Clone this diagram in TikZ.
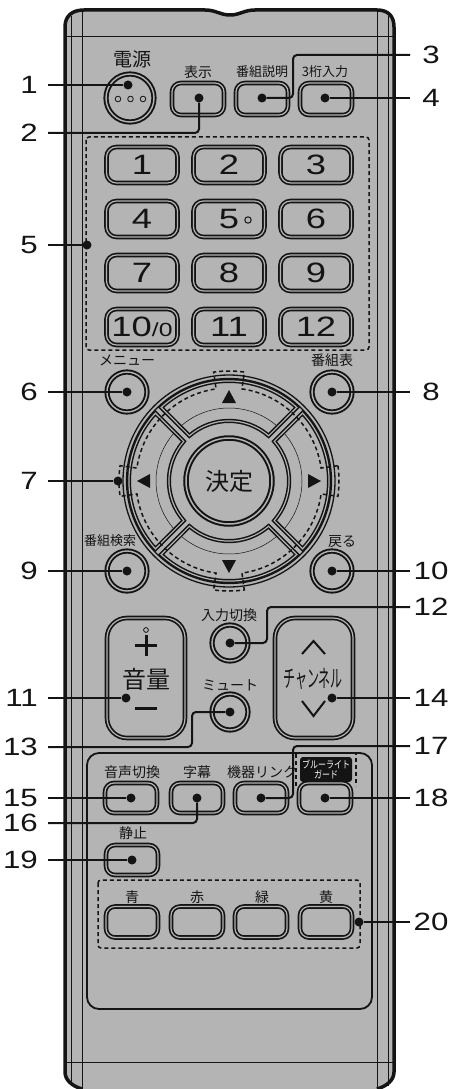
\documentclass[tikz,border=0pt]{standalone}
\usepackage{fontspec}
\usetikzlibrary{calc}
\newfontfamily\jp{Noto Sans CJK JP}
\newfontfamily\numf[FakeStretch=1.25]{Liberation Sans}
\newfontfamily\keyf[FakeStretch=1.3]{Liberation Sans}
\definecolor{bodyc}{RGB}{180,180,180}
\definecolor{ink}{RGB}{20,20,20}
\tikzset{
  btn/.style={draw=ink, line width=1.7, double=bodyc, double distance=1.2, fill=bodyc, rounded corners=9, inner sep=0},
  rbtn/.style={circle, draw=ink, line width=1.9, double=bodyc, double distance=1.4, fill=bodyc, minimum size=#1, inner sep=0},
  keyst/.style={draw=ink, line width=1.5, double=bodyc, double distance=1.2, fill=bodyc},
  dotn/.style={circle, fill=ink, inner sep=0, minimum size=9},
  lbl/.style={font=\jp\fontsize{#1}{#1}\selectfont, inner sep=0, text=ink},
  lbl/.default=14,
  cnum/.style={font=\numf\fontsize{25}{25}\selectfont, inner sep=0, text=ink},
  keyfont/.style={font=\keyf\fontsize{28}{28}\selectfont, text=ink},
  lead/.style={draw=ink, line width=2, rounded corners=4},
  grp/.style={draw=ink, line width=1.5, dash pattern=on 4pt off 3pt},
  thinl/.style={draw=ink, line width=0.8},
}
\begin{document}
\begin{tikzpicture}[x=1pt,y=-1pt]
\useasboundingbox (0,0) rectangle (459,1089);
\fill[white] (0,0) rectangle (459,1089);

% ---------------- body ----------------
\fill[bodyc] (82,1089) .. controls (72,1086) and (65,1080) .. (65,1072) -- (65,27)
  .. controls (65,16) and (72,10) .. (84,10) -- (205,10)
  .. controls (216,10) and (220,15) .. (230,15)
  .. controls (240,15) and (244,10) .. (255,10) -- (377,10)
  .. controls (388,10) and (394,16) .. (394,27) -- (394,1072)
  .. controls (394,1080) and (387,1086) .. (377,1089) -- cycle;
\draw[thinl] (71,16) -- (71,1086);
\draw[thinl] (82,12) -- (82,1089);
\draw[thinl] (377,12) -- (377,1089);
\draw[thinl] (388,16) -- (388,1086);
\draw[thinl] (65,36) -- (394,36);
\draw[thinl] (65,1062) -- (394,1062);
\draw[ink, line width=3.5, line join=round] (82,1089) .. controls (72,1086) and (65,1080) .. (65,1072) -- (65,27)
  .. controls (65,16) and (72,10) .. (84,10) -- (205,10)
  .. controls (216,10) and (220,15) .. (230,15)
  .. controls (240,15) and (244,10) .. (255,10) -- (377,10)
  .. controls (388,10) and (394,16) .. (394,27) -- (394,1072)
  .. controls (394,1080) and (387,1086) .. (377,1089);

% ---------------- top row ----------------
\node[rbtn=48] (pw) at (130,98) {};
\foreach \x [count=\i] in {118,130.5,143} \draw[ink, line width=0.8] (\x,99) circle[radius=2.8];
\node[lbl=19] (lpw) at (132,59) {電源};
\node[btn, minimum width=52, minimum height=32] (bdisp) at (198,99) {};
\node[lbl] (ldisp) at (198,72) {表示};
\node[btn, minimum width=52, minimum height=32] (binfo) at (262,99) {};
\node[lbl=13] (linfo) at (262,72) {番組説明};
\node[btn, minimum width=52, minimum height=32] (b3d) at (326,99) {};
\node[lbl=13] (l3d) at (325,72) {3桁入力};

% ---------------- keypad ----------------
\draw[grp, rounded corners=3] (86,137) rectangle (369,350);
\node[btn, minimum width=71, minimum height=36, rounded corners=10, keyfont] (k1) at (142,165) {1};
\node[btn, minimum width=71, minimum height=36, rounded corners=10, keyfont] (k2) at (229,165) {2};
\node[btn, minimum width=71, minimum height=36, rounded corners=10, keyfont] (k3) at (316,165) {3};
\node[btn, minimum width=71, minimum height=36, rounded corners=10, keyfont] (k4) at (142,219) {4};
\node[btn, minimum width=71, minimum height=36, rounded corners=10, keyfont] (k5) at (229,219) {5};
\draw[ink, line width=1] (248,220) circle[radius=3.2];
\node[btn, minimum width=71, minimum height=36, rounded corners=10, keyfont] (k6) at (316,219) {6};
\node[btn, minimum width=71, minimum height=36, rounded corners=10, keyfont] (k7) at (142,273) {7};
\node[btn, minimum width=71, minimum height=36, rounded corners=10, keyfont] (k8) at (229,273) {8};
\node[btn, minimum width=71, minimum height=36, rounded corners=10, keyfont] (k9) at (316,273) {9};
\node[btn, minimum width=71, minimum height=36, rounded corners=10, keyfont] (k10) at (142,327) {10{\fontsize{19}{19}\selectfont/0}};
\node[btn, minimum width=71, minimum height=36, rounded corners=10, keyfont] (k11) at (229,327) {11};
\node[btn, minimum width=71, minimum height=36, rounded corners=10, keyfont] (k12) at (316,327) {12};

% ---------------- menu etc ----------------
\node[lbl] (lmenu) at (127,360) {メニュー};
\node[rbtn=40] (bmenu) at (127,392) {};
\node[lbl] (lepg) at (332,360) {番組表};
\node[rbtn=40] (bepg) at (332,392) {};
\node[lbl=13] (lsrch) at (110,541) {番組検索};
\node[rbtn=40] (bsrch) at (127,571) {};
\node[lbl] (lback) at (342,542) {戻る};
\node[rbtn=40] (bback) at (332,571) {};

% ---------------- d-pad ----------------
\coordinate (C) at (229,481);
\draw[ink, line width=1.3, fill=bodyc] (C) circle[radius=106];
\draw[ink, line width=1.3] (C) circle[radius=102.5];
\foreach \a in {0,90,180,270} {
  \draw[keyst] ($(C)+(\a+48.8:60.1)$) -- ($(C)+(\a+47.3:100.1)$)
     arc[start angle=\a+47.3, end angle=\a+132.7, radius=100.1]
     -- ($(C)+(\a+131.2:60.1)$)
     arc[start angle=\a+131.2, end angle=\a+48.8, radius=60.1] -- cycle;
  \draw[ink, line width=0.5] ($(C)+(\a+50:73)$) arc[start angle=\a+50, end angle=\a+130, radius=73];
}
\draw[grp] ($(C)+(-8:110)$) arc[start angle=-8, end angle=8, radius=110]
  -- ($(C)+(8:93)$) arc[start angle=8, end angle=82, radius=93]
  -- ($(C)+(82:110)$) arc[start angle=82, end angle=98, radius=110]
  -- ($(C)+(98:93)$) arc[start angle=98, end angle=172, radius=93]
  -- ($(C)+(172:110)$) arc[start angle=172, end angle=188, radius=110]
  -- ($(C)+(188:93)$) arc[start angle=188, end angle=262, radius=93]
  -- ($(C)+(262:110)$) arc[start angle=262, end angle=278, radius=110]
  -- ($(C)+(278:93)$) arc[start angle=278, end angle=352, radius=93] -- cycle;
\node[circle, draw=ink, line width=2, double=bodyc, double distance=1.5, fill=bodyc,
      minimum size=86, inner sep=0, lbl=24] (ok) at (C) {決定};
\fill[ink] (222,403) -- (236,403) -- (229,390) -- cycle;
\fill[ink] (222,560) -- (236,560) -- (229,573) -- cycle;
\fill[ink] (137,481) -- (150,474) -- (150,488) -- cycle;
\fill[ink] (321,481) -- (308,474) -- (308,488) -- cycle;

% ---------------- volume / channel ----------------
\node[btn, minimum width=78, minimum height=120, rounded corners=20] (vol) at (146,678) {};
\draw[ink, line width=0.8] (146,630) circle[radius=2.4];
\draw[ink, line width=3] (135,645) -- (157,645);
\draw[ink, line width=3] (146,635) -- (146,656);
\node[lbl=24] (lvol) at (146,679) {音量};
\draw[ink, line width=3] (135,708) -- (157,708);
\node[btn, minimum width=78, minimum height=120, rounded corners=20] (ch) at (314,678) {};
\draw[ink, line width=2] (302,654) -- (313.5,641) -- (325,654);
\draw[ink, line width=2] (302,701) -- (313.5,716) -- (325,701);
\node[lbl=24] (lch) at (313,679) {\scalebox{0.5}[1]{チャンネル}};
\node[lbl] (linp) at (229,615) {入力切換};
\node[rbtn=36] (binp) at (230,643) {};
\node[lbl] (lmute) at (230,685) {ミュート};
\node[rbtn=36] (bmute) at (230,712) {};

% ---------------- lower panel ----------------
\draw[ink, line width=1.8, fill=bodyc, rounded corners=12] (87,753) rectangle (372,1009);
\draw[grp] (296,786) -- (296,753) -- (356,753) -- (356,786);
\node[fill=ink, rounded corners=3, minimum width=52, minimum height=25, inner sep=0,
      text=white, align=center, font=\jp\fontsize{10}{11}\selectfont] (lblue) at (326,769.5)
      {\scalebox{0.8}[1]{ブルーライト}\\[-1pt]\scalebox{0.8}[1]{ガード}};
\node[lbl] (laud) at (132,772) {音声切換};
\node[lbl] (lsub) at (197,772) {字幕};
\node[lbl] (llink) at (262,772) {機器リンク};
\node[btn, minimum width=52, minimum height=30] (baud) at (131,798) {};
\node[btn, minimum width=52, minimum height=30] (bsub) at (197,798) {};
\node[btn, minimum width=52, minimum height=30] (blink) at (261,798) {};
\node[btn, minimum width=52, minimum height=30] (bblue) at (325,798) {};
\node[lbl] (lstill) at (133,833) {静止};
\node[btn, minimum width=52, minimum height=30] (bstill) at (132,860) {};
\draw[grp, rounded corners=3] (98,880) rectangle (360,948);
\node[lbl] (lc1) at (132,897) {青};
\node[lbl] (lc2) at (197,897) {赤};
\node[lbl] (lc3) at (262,897) {緑};
\node[lbl] (lc4) at (326,897) {黄};
\node[btn, minimum width=52, minimum height=31] (bc1) at (132,922) {};
\node[btn, minimum width=52, minimum height=31] (bc2) at (197,922) {};
\node[btn, minimum width=52, minimum height=31] (bc3) at (261,922) {};
\node[btn, minimum width=52, minimum height=31] (bc4) at (326,922) {};

% ---------------- callout numbers ----------------
\node[cnum, anchor=east] (n1) at (38,85) {1};
\node[cnum, anchor=east] (n2) at (38,133) {2};
\node[cnum] (n3) at (431,55) {3};
\node[cnum] (n4) at (431,98) {4};
\node[cnum, anchor=east] (n5) at (38,245) {5};
\node[cnum, anchor=east] (n6) at (38,392) {6};
\node[cnum, anchor=east] (n7) at (38,481) {7};
\node[cnum] (n8) at (431,392) {8};
\node[cnum, anchor=east] (n9) at (38,571) {9};
\node[cnum] (n10) at (431,571) {10};
\node[cnum, anchor=east] (n11) at (38,698) {11};
\node[cnum] (n12) at (431,607) {12};
\node[cnum, anchor=east] (n13) at (38,747) {13};
\node[cnum] (n14) at (431,698) {14};
\node[cnum, anchor=east] (n15) at (38,798) {15};
\node[cnum, anchor=east] (n16) at (38,823) {16};
\node[cnum] (n17) at (431,746) {17};
\node[cnum] (n18) at (431,798) {18};
\node[cnum, anchor=east] (n19) at (38,860) {19};
\node[cnum] (n20) at (431,922) {20};

% line starts
\coordinate (a1) at (48,85);
\coordinate (a2) at (48,133);
\coordinate (a3) at (410,55);
\coordinate (a4) at (410,98);
\coordinate (a5) at (48,245);
\coordinate (a6) at (48,392);
\coordinate (a7) at (48,481);
\coordinate (a8) at (410,392);
\coordinate (a9) at (48,571);
\coordinate (a10) at (410,571);
\coordinate (a11) at (48,698);
\coordinate (a12) at (410,607);
\coordinate (a13) at (48,747);
\coordinate (a14) at (410,698);
\coordinate (a15) at (48,798);
\coordinate (a16) at (48,823);
\coordinate (a17) at (410,746);
\coordinate (a18) at (410,798);
\coordinate (a19) at (48,860);
\coordinate (a20) at (410,922);

% dots
\node[dotn] (d1) at (128,85) {};
\node[dotn] (d2) at (199,98) {};
\node[dotn] (d3) at (262,98) {};
\node[dotn] (d4) at (325,98) {};
\node[dotn] (d5) at (87,245) {};
\node[dotn] (d6) at (127,392) {};
\node[dotn] (d7) at (118,481) {};
\node[dotn] (d8) at (332,392) {};
\node[dotn] (d9) at (127,571) {};
\node[dotn] (d10) at (332,571) {};
\node[dotn] (d11) at (126,698) {};
\node[dotn] (d12) at (230,643) {};
\node[dotn] (d13) at (230,712) {};
\node[dotn] (d14) at (332,698) {};
\node[dotn] (d15) at (131,798) {};
\node[dotn] (d16) at (197,798) {};
\node[dotn] (d17) at (261,798) {};
\node[dotn] (d18) at (325,798) {};
\node[dotn] (d19) at (132,860) {};
\node[dotn] (d20) at (359,922) {};

% leader lines
\draw[lead] (a1) -- (d1);
\draw[lead] (a2) -| (d2);
\draw[lead] (a3) -| (293,98) -- (d3);
\draw[lead] (a4) -- (d4);
\draw[lead] (a5) -- (d5);
\draw[lead] (a6) -- (d6);
\draw[lead] (a7) -- (d7);
\draw[lead] (a8) -- (d8);
\draw[lead] (a9) -- (d9);
\draw[lead] (a10) -- (d10);
\draw[lead] (a11) -- (d11);
\draw[lead] (a12) -| (267,643) -- (d12);
\draw[lead] (a13) -| (192,712) -- (d13);
\draw[lead] (a14) -- (d14);
\draw[lead] (a15) -- (d15);
\draw[lead] (a16) -| (d16);
\draw[lead] (a17) -| (293,798) -- (d17);
\draw[lead] (a18) -- (d18);
\draw[lead] (a19) -- (d19);
\draw[lead] (a20) -- (d20);
\end{tikzpicture}
\end{document}
